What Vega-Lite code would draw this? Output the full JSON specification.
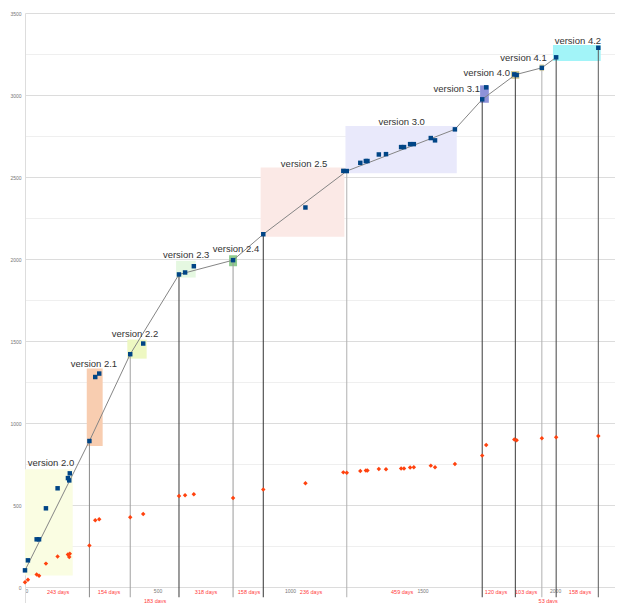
{
  "$schema": "https://vega.github.io/schema/vega-lite/v6.json",
  "autosize": {"type": "none"},
  "padding": {"left": 25, "top": 13, "right": 0, "bottom": 0},
  "width": 590,
  "height": 590,
  "background": "white",
  "config": {
    "view": {"stroke": null},
    "font": "Liberation Sans"
  },
  "datasets": {
    "points": [
      {"x": 0, "a": 104, "b": 32},
      {"x": 11, "a": 165, "b": 47},
      {"x": 44, "a": 293, "b": 79},
      {"x": 53, "a": 293, "b": 71},
      {"x": 79, "a": 482, "b": 145},
      {"x": 123, "a": 604, "b": 189},
      {"x": 162, "a": 666, "b": 201},
      {"x": 167, "a": 652, "b": 185},
      {"x": 169, "a": 695, "b": 205},
      {"x": 243, "a": 892, "b": 256},
      {"x": 265, "a": 1282, "b": 409},
      {"x": 280, "a": 1303, "b": 415},
      {"x": 397, "a": 1421, "b": 427},
      {"x": 446, "a": 1486, "b": 447},
      {"x": 581, "a": 1907, "b": 557},
      {"x": 604, "a": 1919, "b": 561},
      {"x": 637, "a": 1957, "b": 567},
      {"x": 785, "a": 1994, "b": 545},
      {"x": 899, "a": 2152, "b": 596},
      {"x": 1058, "a": 2315, "b": 634},
      {"x": 1201, "a": 2538, "b": 701},
      {"x": 1214, "a": 2537, "b": 699},
      {"x": 1265, "a": 2587, "b": 709},
      {"x": 1286, "a": 2598, "b": 712},
      {"x": 1292, "a": 2598, "b": 712},
      {"x": 1335, "a": 2638, "b": 721},
      {"x": 1362, "a": 2640, "b": 720},
      {"x": 1419, "a": 2683, "b": 724},
      {"x": 1430, "a": 2683, "b": 724},
      {"x": 1453, "a": 2701, "b": 730},
      {"x": 1467, "a": 2701, "b": 732},
      {"x": 1531, "a": 2738, "b": 742},
      {"x": 1547, "a": 2724, "b": 732},
      {"x": 1622, "a": 2791, "b": 752},
      {"x": 1725, "a": 2974, "b": 803},
      {"x": 1740, "a": 3047, "b": 868},
      {"x": 1846, "a": 3126, "b": 901},
      {"x": 1855, "a": 3122, "b": 896},
      {"x": 1950, "a": 3166, "b": 909},
      {"x": 2004, "a": 3230, "b": 915},
      {"x": 2163, "a": 3288, "b": 923}
    ],
    "boxes": [
      {"version": "2.0", "x0": 0, "x1": 180, "y0": 73, "y1": 720, "lx": 98, "ly": 756},
      {"version": "2.1", "x0": 233, "x1": 293, "y0": 862, "y1": 1334, "lx": 260, "ly": 1364},
      {"version": "2.2", "x0": 386, "x1": 459, "y0": 1394, "y1": 1510, "lx": 415, "ly": 1547},
      {"version": "2.3", "x0": 570, "x1": 644, "y0": 1888, "y1": 1990, "lx": 608, "ly": 2024},
      {"version": "2.4", "x0": 770, "x1": 800, "y0": 1957, "y1": 2024, "lx": 796, "ly": 2059},
      {"version": "2.5", "x0": 889, "x1": 1205, "y0": 2136, "y1": 2559, "lx": 1053, "ly": 2579},
      {"version": "3.0", "x0": 1209, "x1": 1629, "y0": 2523, "y1": 2811, "lx": 1421, "ly": 2837},
      {"version": "3.1", "x0": 1717, "x1": 1750, "y0": 2953, "y1": 3059, "lx": 1629, "ly": 3037},
      {"version": "4.0", "x0": 1834, "x1": 1865, "y0": 3099, "y1": 3146, "lx": 1742, "ly": 3132},
      {"version": "4.1", "x0": 1941, "x1": 1958, "y0": 3146, "y1": 3187, "lx": 1881, "ly": 3228},
      {"version": "4.2", "x0": 1992, "x1": 2172, "y0": 3207, "y1": 3305, "lx": 2086, "ly": 3331}
    ],
    "releases": [
      {"release": "2.1", "x": 243, "y": 892},
      {"release": "2.2", "x": 397, "y": 1421},
      {"release": "2.3", "x": 581, "y": 1907},
      {"release": "2.4", "x": 785, "y": 1994},
      {"release": "2.5", "x": 899, "y": 2152},
      {"release": "3.0", "x": 1214, "y": 2537},
      {"release": "3.1", "x": 1725, "y": 2974},
      {"release": "4.0", "x": 1850, "y": 3124},
      {"release": "4.1", "x": 1950, "y": 3166},
      {"release": "4.2", "x": 2004, "y": 3230},
      {"release": "end", "x": 2163, "y": 3288}
    ],
    "trend": [
      {"x": 0, "y": 104},
      {"x": 243, "y": 892},
      {"x": 397, "y": 1421},
      {"x": 581, "y": 1907},
      {"x": 785, "y": 1994},
      {"x": 899, "y": 2152},
      {"x": 1214, "y": 2537},
      {"x": 1622, "y": 2791},
      {"x": 1725, "y": 2974},
      {"x": 1850, "y": 3124},
      {"x": 1950, "y": 3166},
      {"x": 2004, "y": 3230}
    ],
    "days": [
      {"label": "243 days", "x": 125, "lane": "a"},
      {"label": "154 days", "x": 317, "lane": "a"},
      {"label": "183 days", "x": 491, "lane": "b"},
      {"label": "318 days", "x": 683, "lane": "a"},
      {"label": "158 days", "x": 845, "lane": "a"},
      {"label": "236 days", "x": 1079, "lane": "a"},
      {"label": "459 days", "x": 1423, "lane": "a"},
      {"label": "120 days", "x": 1777, "lane": "a"},
      {"label": "103 days", "x": 1891, "lane": "a"},
      {"label": "53 days", "x": 1974, "lane": "b"},
      {"label": "158 days", "x": 2094, "lane": "a"}
    ]
  },
  "layer": [
    {
      "data": {"name": "boxes"},
      "mark": {"type": "rect"},
      "encoding": {
        "x": {"field": "x0", "type": "quantitative", "scale": {"domain": [0, 2226], "nice": false, "zero": false},
          "axis": {"title": null, "values": [0, 500, 1000, 1500, 2000], "format": "d", "grid": false, "domain": false, "ticks": false, "labelFontSize": 5, "labelColor": "#777", "labelPadding": 1, "offset": -16}},
        "x2": {"field": "x1"},
        "y": {"field": "y0", "type": "quantitative", "scale": {"domain": [-95, 3500], "nice": false, "zero": false},
          "axis": {"title": null, "values": [0, 250, 500, 750, 1000, 1250, 1500, 1750, 2000, 2250, 2500, 2750, 3000, 3250, 3500],
            "labelExpr": "datum.value % 500 === 0 ? datum.label : ''",
            "grid": true,
            "gridColor": {"condition": {"test": "datum.value % 500 === 0", "value": "#dcdcdc"}, "value": "#efefef"},
            "domain": true, "domainColor": "#dddddd", "ticks": false, "labelFontSize": 5, "labelColor": "#777", "labelPadding": 4, "format": "d"}},
        "y2": {"field": "y1"},
        "fill": {"field": "version", "type": "nominal", "legend": null,
          "scale": {"domain": ["2.0", "2.1", "2.2", "2.3", "2.4", "2.5", "3.0", "3.1", "4.0", "4.1", "4.2"],
            "range": ["#fafde2", "#f8cdb0", "#eef8c2", "#e5f8e1", "#8fcc8f", "#fbe9e6", "#e9e9fb", "#8e92d8", "#cfc891", "#e2d9aa", "#a2f4f8"]}}
      }
    },
    {
      "data": {"name": "releases"},
      "mark": {"type": "rule", "strokeWidth": 1},
      "encoding": {
        "x": {"field": "x", "type": "quantitative"},
        "y": {"field": "y", "type": "quantitative"},
        "y2": {"datum": -60},
        "stroke": {"field": "release", "type": "nominal", "legend": null,
          "scale": {"domain": ["2.1", "2.2", "2.3", "2.4", "2.5", "3.0", "3.1", "4.0", "4.1", "4.2", "end"],
            "range": ["#8a8a8a", "#a0a0a0", "#3a3a3a", "#9a9a9a", "#333333", "#b0b0b0", "#3a3a3a", "#3a3a3a", "#b0b0b0", "#444444", "#5a5a5a"]}}
      }
    },
    {
      "data": {"name": "trend"},
      "mark": {"type": "line", "color": "#858585", "strokeWidth": 1},
      "encoding": {
        "x": {"field": "x", "type": "quantitative"},
        "y": {"field": "y", "type": "quantitative"}
      }
    },
    {
      "data": {"name": "points"},
      "mark": {"type": "square", "color": "#004586", "opacity": 1, "size": 20},
      "encoding": {
        "x": {"field": "x", "type": "quantitative"},
        "y": {"field": "a", "type": "quantitative"}
      }
    },
    {
      "data": {"name": "points"},
      "mark": {"type": "point", "shape": "diamond", "filled": true, "color": "#ff420e", "opacity": 1, "size": 20},
      "encoding": {
        "x": {"field": "x", "type": "quantitative"},
        "y": {"field": "b", "type": "quantitative"}
      }
    },
    {
      "data": {"name": "boxes"},
      "transform": [{"calculate": "'version ' + datum.version", "as": "vlabel"}],
      "mark": {"type": "text", "font": "Liberation Sans", "fontSize": 9.5, "color": "#333333", "align": "center", "baseline": "middle"},
      "encoding": {
        "x": {"field": "lx", "type": "quantitative"},
        "y": {"field": "ly", "type": "quantitative"},
        "text": {"field": "vlabel", "type": "nominal"}
      }
    },
    {
      "data": {"name": "days"},
      "transform": [{"filter": "datum.lane === 'a'"}],
      "mark": {"type": "text", "fontSize": 5.5, "color": "#ff3b3b", "align": "center", "baseline": "middle"},
      "encoding": {
        "x": {"field": "x", "type": "quantitative"},
        "y": {"datum": -25},
        "text": {"field": "label"}
      }
    },
    {
      "data": {"name": "days"},
      "transform": [{"filter": "datum.lane === 'b'"}],
      "mark": {"type": "text", "fontSize": 5.5, "color": "#ff3b3b", "align": "center", "baseline": "middle"},
      "encoding": {
        "x": {"field": "x", "type": "quantitative"},
        "y": {"datum": -85},
        "text": {"field": "label"}
      }
    }
  ]
}
